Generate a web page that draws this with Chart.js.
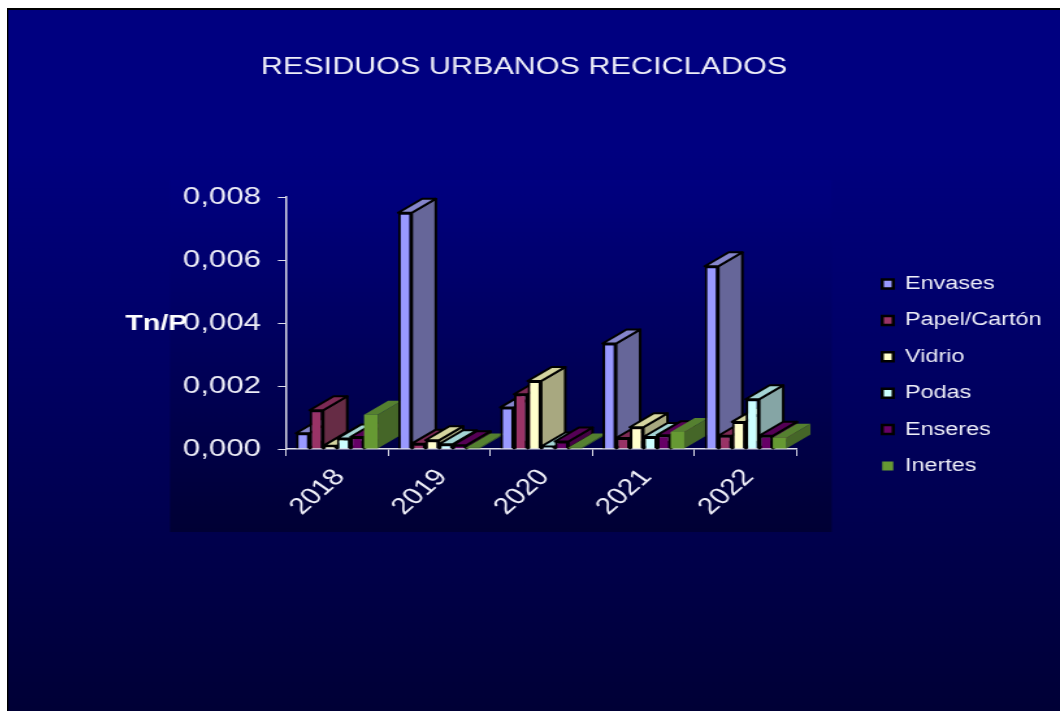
<!DOCTYPE html>
<html>
<head>
<meta charset="utf-8">
<title>Residuos urbanos reciclados</title>
<script src="https://cdn.jsdelivr.net/npm/chart.js@4"></script>
<style>
html, body { margin: 0; background: #fff; overflow: hidden; }
/* the original picture is stretched sideways, text included */
#chart { position: absolute; left: 7px; top: 8px; transform: scaleX(1.3); transform-origin: 0 0; }
</style>
</head>
<body>
<canvas id="chart" width="810" height="703"></canvas>
<script>
var years = ["2018", "2019", "2020", "2021", "2022"];
var envases = [0.0005, 0.0075, 0.00132, 0.00335, 0.0058];
var papel = [0.00123, 0.00017, 0.00174, 0.00035, 0.00042];
var vidrio = [0.0001, 0.00028, 0.00216, 0.00069, 0.00086];
var podas = [0.00033, 0.00015, 0.00008, 0.00038, 0.00158];
var enseres = [0.00038, 0.00012, 0.00024, 0.00044, 0.00042];
var inertes = [0.00109, 0.00005, 0.00005, 0.00054, 0.00036];

var frontColors = ["#9999ff", "#993366", "#ffffcc", "#ccffff", "#660066", "#669933"];
var sideColors = ["#666699", "#662c45", "#a8a880", "#85a5a5", "#440044", "#456628"];
var topColors = ["#8585cc", "#7d2a55", "#d5d5a0", "#a5d5d5", "#550055", "#558030"];

var textColor = "#eeeef8";
var fontName = "'Liberation Sans', Arial, sans-serif";
var depthX = 18.5;
var depthY = 14;

function makeSeries(name, values, i){
    return {
        label: name,
        data: values,
        backgroundColor: frontColors[i],
        borderColor: "#000000",
        borderWidth: i == 5 ? 0 : 2,
        barPercentage: 1,
        categoryPercentage: 0.8
    };
}

var backgroundPlugin = {
    id: "background",
    beforeDraw: function(chart){
        var ctx = chart.ctx;
        var full = ctx.createLinearGradient(0, 0, 0, 703);
        full.addColorStop(0, "#000080");
        full.addColorStop(0.2, "#000080");
        full.addColorStop(1, "#000036");
        ctx.fillStyle = full;
        ctx.fillRect(0, 0, 810, 703);
        // the darker plate behind the plot
        var plate = ctx.createLinearGradient(0, 172, 0, 524);
        plate.addColorStop(0, "#000080");
        plate.addColorStop(1, "#000034");
        ctx.fillStyle = plate;
        ctx.fillRect(125.4, 172, 509, 352);
        ctx.fillStyle = "#000000";
        ctx.fillRect(0, 0, 810, 2);
        ctx.fillRect(0, 0, 1, 703);
    }
};

function drawDepth(ctx, bar, i){
    var left = bar.x - bar.width / 2;
    var right = bar.x + bar.width / 2;
    ctx.lineWidth = 2;
    ctx.strokeStyle = i == 5 ? "rgba(0,0,0,0)" : "#000000";
    ctx.lineJoin = "round";
    ctx.fillStyle = sideColors[i];
    ctx.beginPath();
    ctx.moveTo(right, bar.y);
    ctx.lineTo(right + depthX, bar.y - depthY);
    ctx.lineTo(right + depthX, bar.base - depthY);
    ctx.lineTo(right, bar.base);
    ctx.closePath();
    ctx.fill();
    ctx.stroke();
    ctx.fillStyle = topColors[i];
    ctx.beginPath();
    ctx.moveTo(left, bar.y);
    ctx.lineTo(left + depthX, bar.y - depthY);
    ctx.lineTo(right + depthX, bar.y - depthY);
    ctx.lineTo(right, bar.y);
    ctx.closePath();
    ctx.fill();
    ctx.stroke();
}

// bars have to be painted year by year, left to right, so they hide each other's sides
var bars3dPlugin = {
    id: "bars3d",
    beforeDatasetsDraw: function(chart){
        var ctx = chart.ctx;
        for(var c = 0; c < years.length; c++){
            for(var i = 0; i < chart.data.datasets.length; i++){
                var bar = chart.getDatasetMeta(i).data[c];
                ctx.save();
                drawDepth(ctx, bar, i);
                ctx.restore();
                bar.draw(ctx);
            }
        }
        return false;
    }
};

var axisLabelPlugin = {
    id: "axisLabel",
    afterDraw: function(chart){
        var ctx = chart.ctx;
        ctx.save();
        ctx.fillStyle = "#ffffff";
        ctx.font = "bold 22px " + fontName;
        ctx.textBaseline = "middle";
        ctx.fillText("Tn/P", 91, 316);
        ctx.restore();
    }
};

// the legend box comes out too narrow for "Papel/Cartón" and clips it, so move it left
var legendShiftPlugin = {
    id: "legendShift",
    afterLayout: function(chart){
        chart.legend.left -= 8;
    }
};

new Chart(document.getElementById("chart"), {
    type: "bar",
    data: {
        labels: years,
        datasets: [
            makeSeries("Envases", envases, 0),
            makeSeries("Papel/Cartón", papel, 1),
            makeSeries("Vidrio", vidrio, 2),
            makeSeries("Podas", podas, 3),
            makeSeries("Enseres", enseres, 4),
            makeSeries("Inertes", inertes, 5)
        ]
    },
    options: {
        responsive: false,
        animation: false,
        devicePixelRatio: 1,
        layout: { padding: { top: 31, left: 0, right: 14.6, bottom: 0 } },
        plugins: {
            title: {
                display: true,
                text: "RESIDUOS URBANOS RECICLADOS",
                color: textColor,
                font: { family: fontName, size: 23.5, weight: "normal" },
                padding: { top: 14, bottom: 115.8 }
            },
            legend: {
                position: "right",
                labels: {
                    color: textColor,
                    font: { family: fontName, size: 18 },
                    boxWidth: 8.5,
                    boxHeight: 9,
                    padding: 18.4,
                    generateLabels: function(chart){
                        var items = Chart.defaults.plugins.legend.labels.generateLabels(chart);
                        items.forEach(function(item, i){
                            item.lineWidth = i == 5 ? 0 : 2.5;
                        });
                        return items;
                    }
                }
            },
            tooltip: { enabled: false }
        },
        scales: {
            x: {
                grid: { drawOnChartArea: false, color: "#dddde8", tickLength: 7 },
                border: { color: "#dddde8", width: 1.5 },
                ticks: {
                    color: textColor,
                    font: { family: fontName, size: 23 },
                    maxRotation: 48,
                    minRotation: 48,
                    autoSkip: false,
                    padding: 8,
                    labelOffset: 2.5
                },
                afterFit: function(scale){ scale.height = 262; }
            },
            y: {
                min: 0,
                max: 0.008,
                grid: { drawOnChartArea: false, color: "#dddde8", tickLength: 6 },
                border: { color: "#dddde8", width: 1.5 },
                ticks: {
                    stepSize: 0.002,
                    color: textColor,
                    font: { family: fontName, size: 24 },
                    padding: 13,
                    callback: function(value){ return value.toFixed(3).replace(".", ","); }
                },
                afterFit: function(scale){ scale.width = 214.4; }
            },
            // keeps the gap between the plot and the legend
            gap: {
                type: "linear",
                position: "right",
                display: true,
                grid: { display: false },
                border: { display: false },
                ticks: { display: false },
                afterFit: function(scale){ scale.width = 55.4; }
            }
        }
    },
    plugins: [backgroundPlugin, bars3dPlugin, axisLabelPlugin, legendShiftPlugin]
});
</script>
</body>
</html>
